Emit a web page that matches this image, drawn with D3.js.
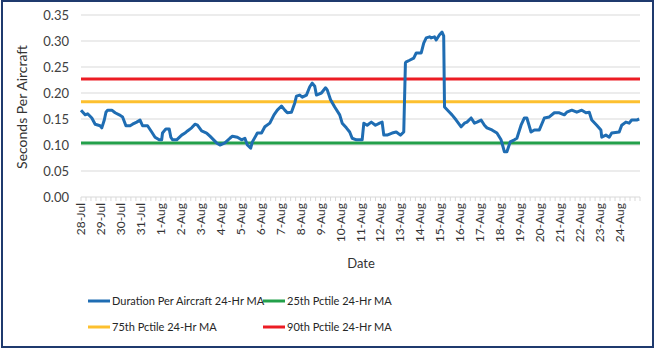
<!DOCTYPE html>
<html><head><meta charset="utf-8">
<script src="https://cdn.jsdelivr.net/npm/d3@7"></script>
<style>html,body{margin:0;padding:0;background:#fff}svg{display:block}</style>
</head><body>
<svg id="c" width="657" height="360"></svg>
<script>
// Hours since 28-Jul 00:00 and the 24-hr moving average (seconds per aircraft)
const hours = [0,5,8,13,17,23,25,28,30,32,37,41,46,50,54,59,62,67,71,74,80,85,89,94,97,98,102,106,108,110,115,121,125,128,133,137,140,145,151,155,163,167,173,179,182,188,193,197,200,204,206,212,217,221,227,232,236,241,245,248,253,257,259,263,266,271,275,278,281,283,289,294,296,300,305,311,314,319,323,326,331,335,338,340,344,349,354,359,362,364,368,374,379,384,388,390,391,395,400,403,409,412,415,419,421,425,427,431,434,436,437,443,446,451,457,461,464,469,473,476,481,485,488,494,500,505,509,512,516,521,524,529,533,536,541,545,551,557,563,569,575,581,584,590,596,602,607,611,614,620,625,626,631,635,638,647,650,655,659,662,668,671];
const duration = [0.167,0.158,0.160,0.152,0.140,0.137,0.133,0.148,0.163,0.167,0.167,0.162,0.158,0.154,0.137,0.137,0.140,0.144,0.148,0.137,0.137,0.125,0.115,0.110,0.110,0.123,0.131,0.131,0.115,0.110,0.110,0.119,0.123,0.127,0.133,0.140,0.138,0.127,0.123,0.117,0.104,0.100,0.104,0.113,0.117,0.115,0.110,0.113,0.100,0.094,0.106,0.123,0.123,0.135,0.142,0.158,0.167,0.175,0.167,0.162,0.163,0.181,0.194,0.196,0.192,0.196,0.212,0.219,0.213,0.196,0.200,0.210,0.206,0.187,0.173,0.158,0.142,0.133,0.125,0.113,0.110,0.110,0.110,0.142,0.138,0.144,0.138,0.142,0.144,0.119,0.119,0.123,0.125,0.119,0.125,0.258,0.260,0.263,0.267,0.277,0.277,0.296,0.306,0.308,0.306,0.308,0.302,0.312,0.317,0.310,0.173,0.163,0.158,0.148,0.135,0.142,0.144,0.152,0.142,0.144,0.148,0.138,0.133,0.129,0.123,0.110,0.087,0.087,0.106,0.110,0.113,0.138,0.152,0.152,0.125,0.129,0.129,0.152,0.154,0.162,0.162,0.158,0.163,0.167,0.163,0.167,0.162,0.163,0.148,0.138,0.129,0.115,0.119,0.115,0.123,0.125,0.138,0.144,0.142,0.148,0.148,0.150];
const pct25 = 0.104, pct75 = 0.183, pct90 = 0.227;
const dayLabels = ["28-Jul","29-Jul","30-Jul","31-Jul","1-Aug","2-Aug","3-Aug","4-Aug","5-Aug","6-Aug","7-Aug","8-Aug","9-Aug","10-Aug","11-Aug","12-Aug","13-Aug","14-Aug","15-Aug","16-Aug","17-Aug","18-Aug","19-Aug","20-Aug","21-Aug","22-Aug","23-Aug","24-Aug"];
const yTicks = [0,0.05,0.10,0.15,0.20,0.25,0.30,0.35];
const seriesNames = ["Duration Per Aircraft 24-Hr MA","25th Pctile 24-Hr MA","75th Pctile 24-Hr MA","90th Pctile 24-Hr MA"];
const seriesColors = ["#1f6db3","#23a04a","#fdc02f","#ec1c24"];

const svg = d3.select("#c");
const font = "Lato, 'Open Sans', sans-serif";
svg.append("rect").attr("x",2).attr("y",1).attr("width",651).attr("height",346)
  .attr("fill","#fff").attr("stroke","#1f3a6e").attr("stroke-width",2);

const x = d3.scaleLinear().domain([0, 24*dayLabels.length]).range([81, 640]);
const y = d3.scaleLinear().domain([0, 0.35]).range([197, 15]);

// gridlines
svg.append("g").selectAll("line").data(yTicks.filter(d=>d>0)).join("line")
  .attr("x1",81).attr("x2",640).attr("y1",d=>y(d)).attr("y2",d=>y(d))
  .attr("stroke","#d9d9d9").attr("stroke-width",1);

// y axis labels
const yAxis = d3.axisLeft(y).tickValues(yTicks).tickFormat(d3.format(".2f")).tickSize(0).tickPadding(12);
const gy = svg.append("g").attr("transform","translate(81,0)").call(yAxis);
gy.select(".domain").remove();
gy.selectAll("text").attr("font-family",font).attr("font-size",13).attr("fill","#404040");

// x axis
const gx = svg.append("g").attr("transform","translate(0,197)");
gx.append("line").attr("x1",81).attr("x2",640).attr("stroke","#d9d9d9");
const minor = d3.range(0, 24*dayLabels.length+1, 6);
gx.selectAll("line.t").data(minor).join("line").attr("class","t")
  .attr("x1",d=>x(d)).attr("x2",d=>x(d)).attr("y1",0).attr("y2",4).attr("stroke","#d9d9d9");
gx.selectAll("text").data(dayLabels).join("text")
  .attr("transform",(d,i)=>`translate(${x(i*24)+4},6) rotate(-90)`)
  .attr("text-anchor","end").attr("font-family",font).attr("font-size",12).attr("fill","#333")
  .text(d=>d);

// axis titles
svg.append("text").attr("x",361).attr("y",268).attr("text-anchor","middle")
  .attr("font-family",font).attr("font-size",13).attr("fill","#333").text("Date");
svg.append("text").attr("transform","translate(27,107) rotate(-90)").attr("text-anchor","middle")
  .attr("font-family",font).attr("font-size",14).attr("fill","#333").text("Seconds Per Aircraft");

// percentile lines
[[pct25,1],[pct75,2],[pct90,3]].forEach(([v,i])=>{
  svg.append("line").attr("x1",81).attr("x2",640).attr("y1",y(v)).attr("y2",y(v))
    .attr("stroke",seriesColors[i]).attr("stroke-width",3);
});

// main line
const pts = hours.map((h,i)=>[h,duration[i]]);
svg.append("path").datum(pts)
  .attr("d", d3.line().x(d=>x(d[0])).y(d=>y(d[1])))
  .attr("fill","none").attr("stroke",seriesColors[0]).attr("stroke-width",3)
  .attr("stroke-linejoin","round");

// legend
const legPos = [[88,301],[263,301],[88,327],[263,327]];
[0,1,2,3].forEach((s,k)=>{
  const [lx,ly] = legPos[k];
  svg.append("line").attr("x1",lx).attr("x2",lx+22).attr("y1",ly).attr("y2",ly)
    .attr("stroke",seriesColors[s]).attr("stroke-width",3);
  svg.append("text").attr("x",lx+24).attr("y",ly+4).attr("font-family",font).attr("font-size",11)
    .attr("fill","#262626").text(seriesNames[s]);
});
</script>
</body></html>
